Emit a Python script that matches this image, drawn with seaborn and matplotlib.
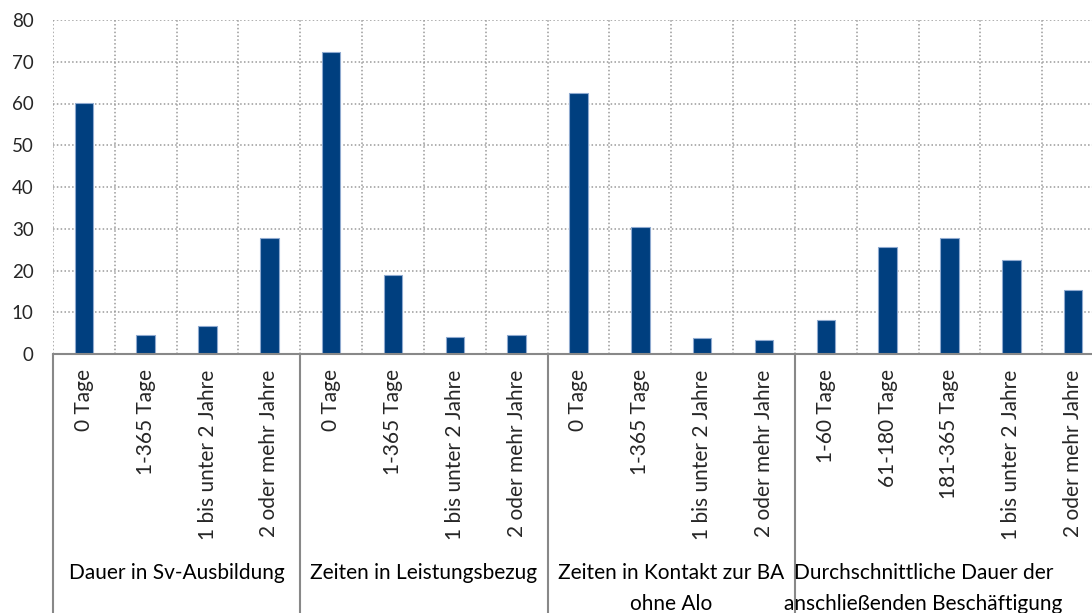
import pandas as pd
import matplotlib.pyplot as plt
import seaborn as sns

# Werte (in %) je Gruppe
gruppen = [
    "Dauer in Sv-Ausbildung",
    "Zeiten in Leistungsbezug",
    "Zeiten in Kontakt zur BA\nohne Alo",
    "Durchschnittliche Dauer der\nanschließenden Beschäftigung",
]
kat_dauer = ["0 Tage", "1-365 Tage", "1 bis unter 2 Jahre", "2 oder mehr Jahre"]
kat_beschaeftigung = ["1-60 Tage", "61-180 Tage", "181-365 Tage", "1 bis unter 2 Jahre", "2 oder mehr Jahre"]

werte_ausbildung = [60.2, 4.6, 6.8, 27.9]
werte_leistung = [72.3, 18.9, 4.1, 4.5]
werte_kontakt = [62.5, 30.3, 3.9, 3.3]
werte_beschaeftigung = [8.2, 25.7, 27.9, 22.5, 15.3]
y_ticks = [0, 10, 20, 30, 40, 50, 60, 70, 80]

# Tabelle bauen
rows = []
for g, kats, vals in zip(gruppen,
                         [kat_dauer, kat_dauer, kat_dauer, kat_beschaeftigung],
                         [werte_ausbildung, werte_leistung, werte_kontakt, werte_beschaeftigung]):
    for k, v in zip(kats, vals):
        rows.append({"gruppe": g, "kategorie": k, "wert": v})
df = pd.DataFrame(rows)
df["key"] = df["gruppe"] + "|" + df["kategorie"]

sns.set_theme(style="white")
plt.rcParams['font.family'] = ['Lato', 'DejaVu Sans']

W, H = 1092, 613
fig = plt.figure(figsize=(W / 100, H / 100), dpi=100)
# Plotbereich: links 53px, oben 20px, Nulllinie bei 354px, rechts über den Rand hinaus
ax = fig.add_axes([53 / W, (H - 354) / H, (1104 - 53) / W, (354 - 20) / H])

sns.barplot(data=df, x="key", y="wert", order=list(df["key"]), ax=ax,
            color="#003F7F", width=0.3, edgecolor="#8FAAD0", linewidth=0.8,
            saturation=1, errorbar=None)

n = len(df)
ax.set_xlim(-0.5, n - 0.5)
ax.set_ylim(0, 80)
ax.set_yticks(y_ticks)
ax.set_xlabel("")
ax.set_ylabel("")

# Gitter: gepunktet, vertikal zwischen den Kategorien
ax.set_xticks([i - 0.5 for i in range(n + 1)], minor=True)
ax.grid(axis="y", which="major", linestyle=(0, (1, 1.5)), color="#9a9a9a", linewidth=1.1)
ax.grid(axis="x", which="minor", linestyle=(0, (1, 1.5)), color="#9a9a9a", linewidth=1.1)
ax.set_axisbelow(True)

for s in ["top", "right", "left"]:
    ax.spines[s].set_visible(False)
ax.spines["bottom"].set_color("#888888")
ax.spines["bottom"].set_linewidth(1.5)

ax.set_xticks(range(n))
ax.set_xticklabels(df["kategorie"], rotation=90, va="top", ha="center", fontsize=15)
ax.tick_params(axis="x", which="both", length=0, pad=11)
ax.tick_params(axis="y", length=0, pad=14, labelsize=13.5)

# Gruppen-Trennlinien unterhalb der Achse
trans = ax.get_xaxis_transform()
start = 0
for g in gruppen:
    cnt = (df["gruppe"] == g).sum()
    ax.plot([start - 0.5, start - 0.5], [0, -1.0], transform=trans,
            color="#888888", linewidth=1.5, clip_on=False)
    mitte = start - 0.5 + cnt / 2
    if start + cnt == n:
        # letzte Gruppe ist rechts abgeschnitten
        mitte = start - 0.5 + cnt * 0.416
    ax.text(mitte, -0.626, g, transform=trans, ha="center", va="top",
            fontsize=15, linespacing=1.7, color="black")
    start += cnt

fig.savefig("out.png", dpi=100)
